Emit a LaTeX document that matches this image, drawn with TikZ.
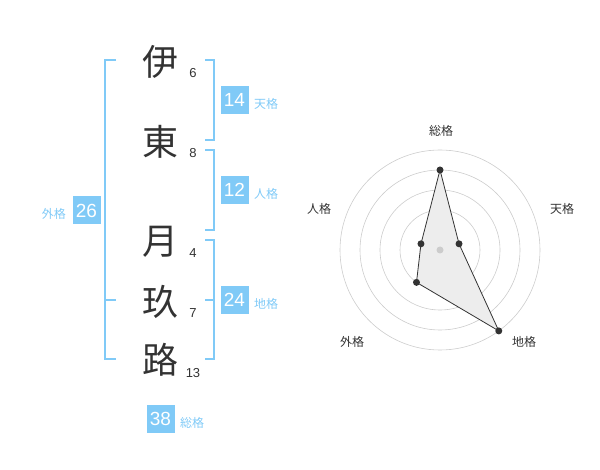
\documentclass[tikz,border=0pt]{standalone}
\usepackage{fontspec}
\setmainfont{Liberation Sans}
\newfontfamily\jp{Noto Sans CJK JP}
\definecolor{sky}{RGB}{128,202,247}
\definecolor{ink}{RGB}{51,51,51}
\definecolor{ring}{RGB}{204,204,204}
\begin{document}
\begin{tikzpicture}[x=1pt, y=-1pt]
        \tikzstyle{kanji} = [text=ink, font=\jp\fontsize{36}{36}\selectfont, inner sep=0pt]
        \tikzstyle{strokes} = [text=ink, font=\fontsize{13}{13}\selectfont, inner sep=0pt]
        \tikzstyle{score} = [fill=sky, text=white, font=\fontsize{19}{19}\selectfont, minimum width=28pt, minimum height=28pt, inner sep=0pt]
        \tikzstyle{kaku} = [text=sky, font=\jp\fontsize{12}{12}\selectfont, inner sep=0pt]
        \tikzstyle{bracket} = [draw=sky, line width=1.6pt]
        \tikzstyle{axis} = [text=ink, font=\jp\fontsize{12}{12}\selectfont, inner sep=0pt]
        \useasboundingbox (0, 0) rectangle (600, 470);

        \node[kanji] (k1) at (160, 62) {伊};
        \node[kanji] (k2) at (160, 142) {東};
        \node[kanji] (k3) at (160, 242) {月};
        \node[kanji] (k4) at (160, 302) {玖};
        \node[kanji] (k5) at (160, 360) {路};
        \node[strokes] (n1) at (193, 73) {6};
        \node[strokes] (n2) at (193, 153) {8};
        \node[strokes] (n3) at (193, 253) {4};
        \node[strokes] (n4) at (193, 313) {7};
        \node[strokes] (n5) at (193, 373) {13};

        \node[score] (ten) at (234.5, 100) {14};
        \node[score] (jin) at (234.5, 190) {12};
        \node[score] (chi) at (234.5, 300) {24};
        \node[score] (gai) at (86.5, 210.5) {26};
        \node[score] (sou) at (160.5, 419) {38};
        \node[kaku, anchor=west] (ten label) at (254, 104) {天格};
        \node[kaku, anchor=west] (jin label) at (254, 194) {人格};
        \node[kaku, anchor=west] (chi label) at (254, 304) {地格};
        \node[kaku, anchor=east] (gai label) at (66, 214) {外格};
        \node[kaku, anchor=west] (sou label) at (180, 423) {総格};

        \path[bracket] (116, 60) -- (105, 60) -- (105, 359) -- (116, 359);
        \path[bracket] (105, 300) -- (116, 300);
        \path[bracket] (205, 60) -- (214, 60) -- (214, 140) -- (205, 140);
        \path[bracket] (205, 150) -- (214, 150) -- (214, 230) -- (205, 230);
        \path[bracket] (205, 240) -- (214, 240) -- (214, 359) -- (205, 359);
        \path[bracket] (205, 300) -- (214, 300);

        \begin{scope}[shift={(440, 250)}, yscale=-1]
            \foreach \r in {20, 40, 60, 80, 100}
                \draw[ring, line width=0.6pt] (0, 0) circle (\r);
            \coordinate (p-sou) at (90:80);
            \coordinate (p-ten) at (18:20);
            \coordinate (p-chi) at (-54:100);
            \coordinate (p-gai) at (234:40);
            \coordinate (p-jin) at (162:20);
            \draw[ink, fill=black!7, line width=0.8pt] (p-sou) -- (p-ten) -- (p-chi) -- (p-gai) -- (p-jin) -- cycle;
            \fill[ring] (0, 0) circle (3.5);
            \foreach \p in {sou, ten, chi, gai, jin}
                \fill[ink] (p-\p) circle (3.5);
        \end{scope}

        \node[axis] (sou axis) at (441, 131) {総格};
        \node[axis] (ten axis) at (562, 209) {天格};
        \node[axis] (chi axis) at (524, 342) {地格};
        \node[axis] (gai axis) at (352, 342) {外格};
        \node[axis] (jin axis) at (319, 209) {人格};
    \end{tikzpicture}
\end{document}
